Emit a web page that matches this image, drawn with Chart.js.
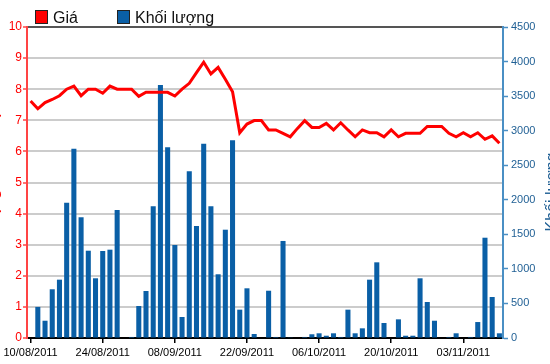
<!DOCTYPE html>
<html>
<head>
<meta charset="utf-8">
<script src="https://cdn.jsdelivr.net/npm/chart.js@4.4.0/dist/chart.umd.min.js"></script>
<style>
  html, body { margin: 0; padding: 0; background: #fff; }
</style>
</head>
<body>
<canvas id="myChart" width="550" height="364"></canvas>
<script>
// ngay giao dich
var dates = [
  '10/08/2011','11/08/2011','12/08/2011','15/08/2011','16/08/2011','17/08/2011','18/08/2011','19/08/2011','22/08/2011','23/08/2011',
  '24/08/2011','25/08/2011','26/08/2011','29/08/2011','30/08/2011','31/08/2011','01/09/2011','05/09/2011','06/09/2011','07/09/2011',
  '08/09/2011','09/09/2011','12/09/2011','13/09/2011','14/09/2011','15/09/2011','16/09/2011','19/09/2011','20/09/2011','21/09/2011',
  '22/09/2011','23/09/2011','26/09/2011','27/09/2011','28/09/2011','29/09/2011','30/09/2011','03/10/2011','04/10/2011','05/10/2011',
  '06/10/2011','07/10/2011','10/10/2011','11/10/2011','12/10/2011','13/10/2011','14/10/2011','17/10/2011','18/10/2011','19/10/2011',
  '20/10/2011','21/10/2011','24/10/2011','25/10/2011','26/10/2011','27/10/2011','28/10/2011','31/10/2011','01/11/2011','02/11/2011',
  '03/11/2011','04/11/2011','07/11/2011','08/11/2011','09/11/2011','10/11/2011'
];

// gia (nghin VND)
var gia = [
  7.62, 7.37, 7.57, 7.67, 7.79, 8.0, 8.1, 7.79, 8.0, 8.0,
  7.87, 8.1, 8.0, 8.0, 8.0, 7.77, 7.9, 7.9, 7.9, 7.9,
  7.78, 8.0, 8.19, 8.53, 8.87, 8.49, 8.7, 8.32, 7.92, 6.6,
  6.88, 6.99, 6.99, 6.69, 6.69, 6.58, 6.47, 6.74, 6.99, 6.77,
  6.77, 6.9, 6.69, 6.92, 6.69, 6.47, 6.69, 6.6, 6.6, 6.47,
  6.69, 6.47, 6.58, 6.58, 6.58, 6.8, 6.8, 6.8, 6.58, 6.47,
  6.6, 6.47, 6.6, 6.39, 6.5, 6.26
];

// khoi luong
var khoiLuong = [
  0, 450, 250, 705, 844, 1958, 2740, 1747, 1263, 864,
  1259, 1278, 1852, 0, 15, 463, 680, 1906, 3660, 2760,
  1346, 304, 2412, 1621, 2812, 1906, 922, 1567, 2860, 410,
  719, 58, 0, 684, 15, 1404, 10, 0, 15, 54,
  68, 33, 68, 15, 410, 68, 140, 844, 1095, 217,
  0, 270, 33, 33, 864, 521, 250, 0, 15, 68,
  0, 15, 231, 1451, 593, 68
];

var giaMax = 10, giaStep = 1;
var klMax = 4500, klStep = 500;

// legend + tieu de truc ve tay
var extras = {
  id: 'extras',
  afterDraw: function(chart) {
    var c = chart.ctx;
    var items = [
      { text: 'Giá', color: chart.data.datasets[0].borderColor, x: 35 },
      { text: 'Khối lượng', color: chart.data.datasets[1].backgroundColor, x: 117 }
    ];
    c.save();
    c.font = '16px "Liberation Sans", Arial, sans-serif';
    c.textBaseline = 'alphabetic';
    items.forEach(function(it) {
      c.fillStyle = it.color;
      c.fillRect(it.x, 10, 12, 13);
      c.strokeStyle = '#222';
      c.lineWidth = 1;
      c.strokeRect(it.x + 0.5, 10.5, 12, 13);
      c.fillStyle = '#111';
      c.fillText(it.text, it.x + 18, 23);
    });

    c.textAlign = 'center';
    c.save();
    c.translate(-3, 181);
    c.rotate(-Math.PI / 2);
    c.font = '19px "Liberation Sans", Arial, sans-serif';
    c.fillStyle = '#ff0000';
    c.fillText('Giá (nghìn VNĐ)', 0, 0);
    c.restore();

    c.save();
    c.translate(557, 192);
    c.rotate(-Math.PI / 2);
    c.font = '16px "Liberation Sans", Arial, sans-serif';
    c.fillStyle = '#1f5f94';
    c.fillText('Khối lượng', 0, 0);
    c.restore();
    c.restore();
  }
};

var ctx = document.getElementById('myChart').getContext('2d');
var chart = new Chart(ctx, {
  data: {
    labels: dates,
    datasets: [{
      type: 'line',
      label: 'Giá',
      data: gia,
      yAxisID: 'y',
      borderColor: '#ff0000',
      borderWidth: 3,
      pointRadius: 0,
      tension: 0,
      order: 0
    }, {
      type: 'bar',
      label: 'Khối lượng',
      data: khoiLuong,
      yAxisID: 'y1',
      backgroundColor: '#0a5fa6',
      borderWidth: 0,
      barPercentage: 0.7,
      categoryPercentage: 1,
      order: 1
    }]
  },
  options: {
    responsive: false,
    animation: false,
    devicePixelRatio: 1,
    layout: { padding: { top: 27, left: 0, right: 0, bottom: 0 } },
    plugins: {
      legend: { display: false },
      tooltip: { enabled: false }
    },
    scales: {
      x: {
        offset: true,
        grid: {
          offset: false,
          drawOnChartArea: false,
          tickLength: 5,
          tickColor: '#000',
          lineWidth: 1.5
        },
        border: { color: '#000', width: 2 },
        ticks: {
          autoSkip: false,
          maxRotation: 0,
          padding: 3,
          color: '#000',
          font: { size: 11, family: '"Liberation Sans", Arial, sans-serif' },
          callback: function(val, i) {
            return i % 10 === 0 ? dates[i] : null;
          }
        },
        afterFit: function(scale) { scale.height = 26; }
      },
      y: {
        position: 'left',
        min: 0,
        max: giaMax,
        grid: {
          color: function(c) { return c.tick && c.tick.value === giaMax ? '#555' : '#cccccc'; },
          lineWidth: 2,
          tickLength: 4,
          tickColor: '#ff4444',
          tickWidth: 1.5
        },
        border: { color: '#ff4444', width: 2 },
        ticks: {
          stepSize: giaStep,
          padding: 1,
          color: '#ff0000',
          font: { size: 12, family: '"Liberation Sans", Arial, sans-serif' }
        },
        afterFit: function(scale) { scale.width = 27; }
      },
      y1: {
        position: 'right',
        min: 0,
        max: klMax,
        grid: {
          drawOnChartArea: false,
          tickLength: 5,
          tickColor: '#4a8fc4',
          tickWidth: 1.5
        },
        border: { color: '#4a8fc4', width: 2 },
        ticks: {
          stepSize: klStep,
          padding: 3,
          color: '#1f5f94',
          font: { size: 11, family: '"Liberation Sans", Arial, sans-serif' },
          callback: function(v) { return String(v); }
        },
        afterFit: function(scale) { scale.width = 47; }
      }
    }
  },
  plugins: [extras]
});
</script>
</body>
</html>
